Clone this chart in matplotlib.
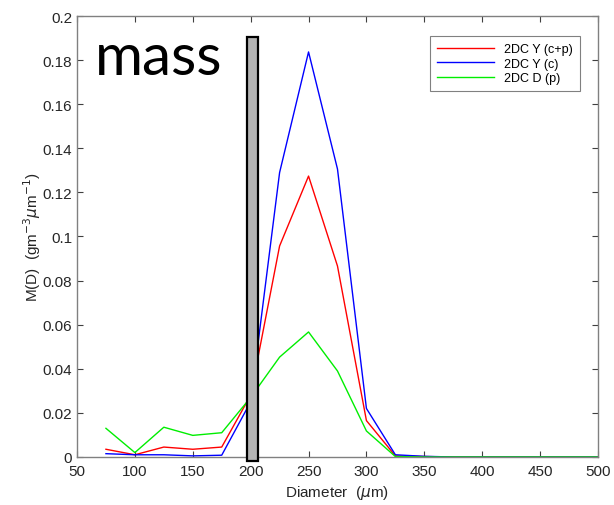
import matplotlib.pyplot as plt
from matplotlib.patches import Rectangle
from matplotlib.ticker import FuncFormatter

# Diameter bins (um)
diam = [75, 100, 125, 150, 175, 200, 225, 250, 275, 300, 325, 350, 375,
        400, 425, 450, 475, 500]

# Mass distributions
m_cp = [0.0035, 0.001, 0.0045, 0.0035, 0.0045, 0.028, 0.0957, 0.1274, 0.0866,
        0.0165, 0.0005, 0.0002, 0, 0, 0, 0, 0, 0]
m_c = [0.0015, 0.001, 0.001, 0.0005, 0.0008, 0.025, 0.129, 0.1837, 0.1306,
       0.022, 0.001, 0.0003, 0, 0, 0, 0, 0, 0]
m_p = [0.013, 0.002, 0.0135, 0.0098, 0.011, 0.027, 0.0453, 0.0567, 0.039,
       0.0118, 0.0002, 0, 0, 0, 0, 0, 0, 0]
labels = ["2DC Y (c+p)", "2DC Y (c)", "2DC D (p)"]

plt.rcParams['font.family'] = ['Liberation Sans', 'DejaVu Sans']
plt.rcParams['mathtext.fontset'] = 'custom'
plt.rcParams['mathtext.it'] = 'DejaVu Sans:italic'

fig = plt.figure(figsize=(6.14, 5.06), dpi=100)
ax = fig.add_axes([0.1254, 0.0949, 0.8485, 0.8715])

ax.plot(diam, m_cp, color="#ff0000", lw=1, label=labels[0])
ax.plot(diam, m_c, color="#0000ff", lw=1, label=labels[1])
ax.plot(diam, m_p, color="#00ee00", lw=1, label=labels[2])

ax.set_xlim(50, 500)
ax.set_ylim(0, 0.2)
ax.set_xticks(range(50, 501, 50))
ax.set_yticks([i * 0.02 for i in range(11)])
ax.yaxis.set_major_formatter(FuncFormatter(lambda v, p: "%g" % round(v, 3)))

ax.tick_params(direction="in", top=True, right=True, length=4, width=0.8,
               colors="#404040", labelsize=11, labelcolor="#262626")
ax.tick_params(axis="x", pad=5)
for s in ax.spines.values():
    s.set_color("#808080")
    s.set_linewidth(1)

ax.set_xlabel(r"Diameter  ($\mu$m)", fontsize=11, color="#262626", labelpad=4)
ax.set_ylabel(r"M(D)  (gm$^{-3}$$\mu$m$^{-1}$)", fontsize=11, color="#262626",
              labelpad=0)

leg = ax.legend(loc="upper right", fontsize=9, frameon=True, fancybox=False,
                borderpad=0.55, handlelength=4.6, labelspacing=0.2,
                bbox_to_anchor=(0.977, 0.968))
leg.get_frame().set_edgecolor("#606060")
leg.get_frame().set_linewidth(0.8)

# highlight bar at 200 um
ax.add_patch(Rectangle((196.8, -0.002), 9.5, 0.1925, facecolor="#b3b3b3",
                       edgecolor="black", lw=1.6, clip_on=False, zorder=5))

ax.text(0.035, 0.905, "mass", transform=ax.transAxes, fontsize=42,
        family=['Lato', 'DejaVu Sans'], va="center", ha="left")

fig.savefig("out.png", dpi=100)
